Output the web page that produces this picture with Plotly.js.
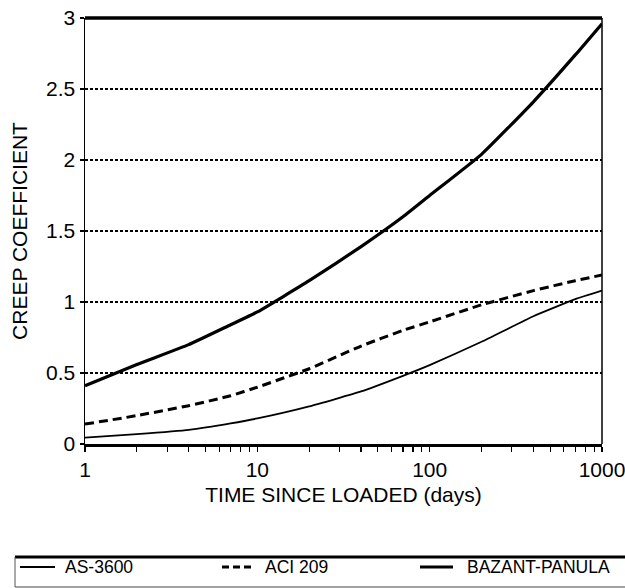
<!DOCTYPE html>
<html>
<head>
<meta charset="utf-8">
<script src="https://cdn.plot.ly/plotly-3.0.1.min.js"></script>
<style>
  html, body { margin: 0; padding: 0; background: #fff; }
  #chart { width: 625px; height: 588px; }
</style>
</head>
<body>
<div id="chart"></div>
<script>
// ---- data ----
const days    = [1, 2, 4, 7, 10, 20, 40, 70, 100, 200, 400, 700, 1000];
const as3600  = [0.045, 0.07, 0.10, 0.145, 0.18, 0.265, 0.37, 0.48, 0.555, 0.72, 0.90, 1.02, 1.08];
const aci209  = [0.14, 0.20, 0.27, 0.34, 0.40, 0.53, 0.69, 0.80, 0.86, 0.98, 1.08, 1.15, 1.19];
const bazant  = [0.41, 0.56, 0.70, 0.84, 0.93, 1.15, 1.39, 1.60, 1.75, 2.04, 2.41, 2.74, 2.96];
const seriesNames = ["AS-3600", "ACI 209", "BAZANT-PANULA"];

const xTickVals  = [1, 10, 100, 1000];
const xTickText  = ["1", "10", "100", "1000"];
const yTickVals  = [0, 0.5, 1, 1.5, 2, 2.5, 3];
const yTickText  = ["0", "0.5", "1", "1.5", "2", "2.5", "3"];

const xTitle = "TIME SINCE LOADED (days)";
const yTitle = "CREEP COEFFICIENT";

// minor log ticks (2..9 in each decade)
const minorVals = [];
for (let d = 1; d <= 100; d *= 10) for (let k = 2; k <= 9; k++) minorVals.push(k * d);

const FONT = "Liberation Sans, Arial, Helvetica, sans-serif";

const styles = [
  { color: "#000", width: 1.8, shape: "spline", smoothing: 0.4 },
  { color: "#000", width: 3, dash: "9px,5px", shape: "spline", smoothing: 0.4 },
  { color: "#000", width: 3.2, shape: "spline", smoothing: 0.4 }
];
const series = [as3600, aci209, bazant];

const traces = series.map((ys, i) => ({
  x: days, y: ys, name: seriesNames[i], mode: "lines", line: styles[i], showlegend: false
}));

// plot area in pixels: x 85..602 (w 517), y 18..444 (h 426)
const PX = px => (px - 85) / 517;
const PY = py => (444 - py) / 426;

// legend (drawn as a boxed row under the chart)
const legY = PY(567);
const legSamples = [[20, 55], [222, 252], [420, 453]];
const legTextX = [63, 263, 465];
const legendShapes = legSamples.map((s, i) => ({
  type: "line", xref: "paper", yref: "paper",
  x0: PX(s[0]), x1: PX(s[1]), y0: legY, y1: legY,
  line: { color: "#000", width: i === 0 ? 1.8 : 3, dash: i === 1 ? "7px,4px" : "solid" }
}));
const legendText = seriesNames.map((n, i) => ({
  xref: "paper", yref: "paper", x: PX(legTextX[i]), y: legY,
  xanchor: "left", yanchor: "middle", showarrow: false, text: n,
  font: { size: 17.5, family: FONT, color: "#000" }
}));

const legTop = PY(557), legBot = PY(587), legLeft = PX(15);

const layout = {
  width: 625, height: 588,
  margin: { l: 85, r: 23, t: 18, b: 144 },
  paper_bgcolor: "#fff", plot_bgcolor: "#fff",
  font: { family: FONT, color: "#000", size: 21 },
  showlegend: false,
  xaxis: {
    type: "log", range: [0, 3.00001],
    tickvals: xTickVals, ticktext: xTickText,
    ticks: "outside", ticklen: 5, tickwidth: 1.5, tickcolor: "#000",
    ticklabelstandoff: 0, ticklabeloverflow: "allow",
    minor: { tickvals: minorVals, ticks: "outside", ticklen: 5, tickwidth: 1.2, tickcolor: "#000", showgrid: false },
    showgrid: false, zeroline: false,
    showline: true, linewidth: 2.5, linecolor: "#000",
    tickfont: { size: 21, family: FONT },
    title: { text: xTitle, font: { size: 21, family: FONT }, standoff: 8 },
    automargin: false
  },
  yaxis: {
    range: [0, 3],
    tickvals: yTickVals, ticktext: yTickText,
    ticks: "outside", ticklen: 4, tickwidth: 1.5, tickcolor: "#000",
    showgrid: true, gridcolor: "#000", gridwidth: 1.5, griddash: "3px,2px",
    zeroline: false,
    showline: true, linewidth: 1.5, linecolor: "#000",
    tickfont: { size: 21, family: FONT },
    title: { text: yTitle, font: { size: 21, family: FONT }, standoff: 12 },
    automargin: false
  },
  annotations: legendText,
  shapes: [
    // thick top frame line
    { type: "line", xref: "paper", yref: "paper", x0: 0, x1: 1, y0: 1, y1: 1,
      line: { color: "#000", width: 3.5 } },
    // thin right frame line
    { type: "line", xref: "paper", yref: "paper", x0: 1, x1: 1, y0: 0, y1: 1,
      line: { color: "#000", width: 1.5 } },
    // legend box: thick top, thin sides and bottom
    { type: "line", xref: "paper", yref: "paper", x0: legLeft, x1: 1.1, y0: legTop, y1: legTop,
      line: { color: "#000", width: 3 } },
    { type: "line", xref: "paper", yref: "paper", x0: legLeft, x1: legLeft, y0: legTop, y1: legBot,
      line: { color: "#555", width: 1 } },
    { type: "line", xref: "paper", yref: "paper", x0: legLeft, x1: 1.1, y0: legBot, y1: legBot,
      line: { color: "#444", width: 1.2 } }
  ].concat(legendShapes)
};

Plotly.newPlot("chart", traces, layout, { displayModeBar: false, staticPlot: true });
</script>
</body>
</html>
